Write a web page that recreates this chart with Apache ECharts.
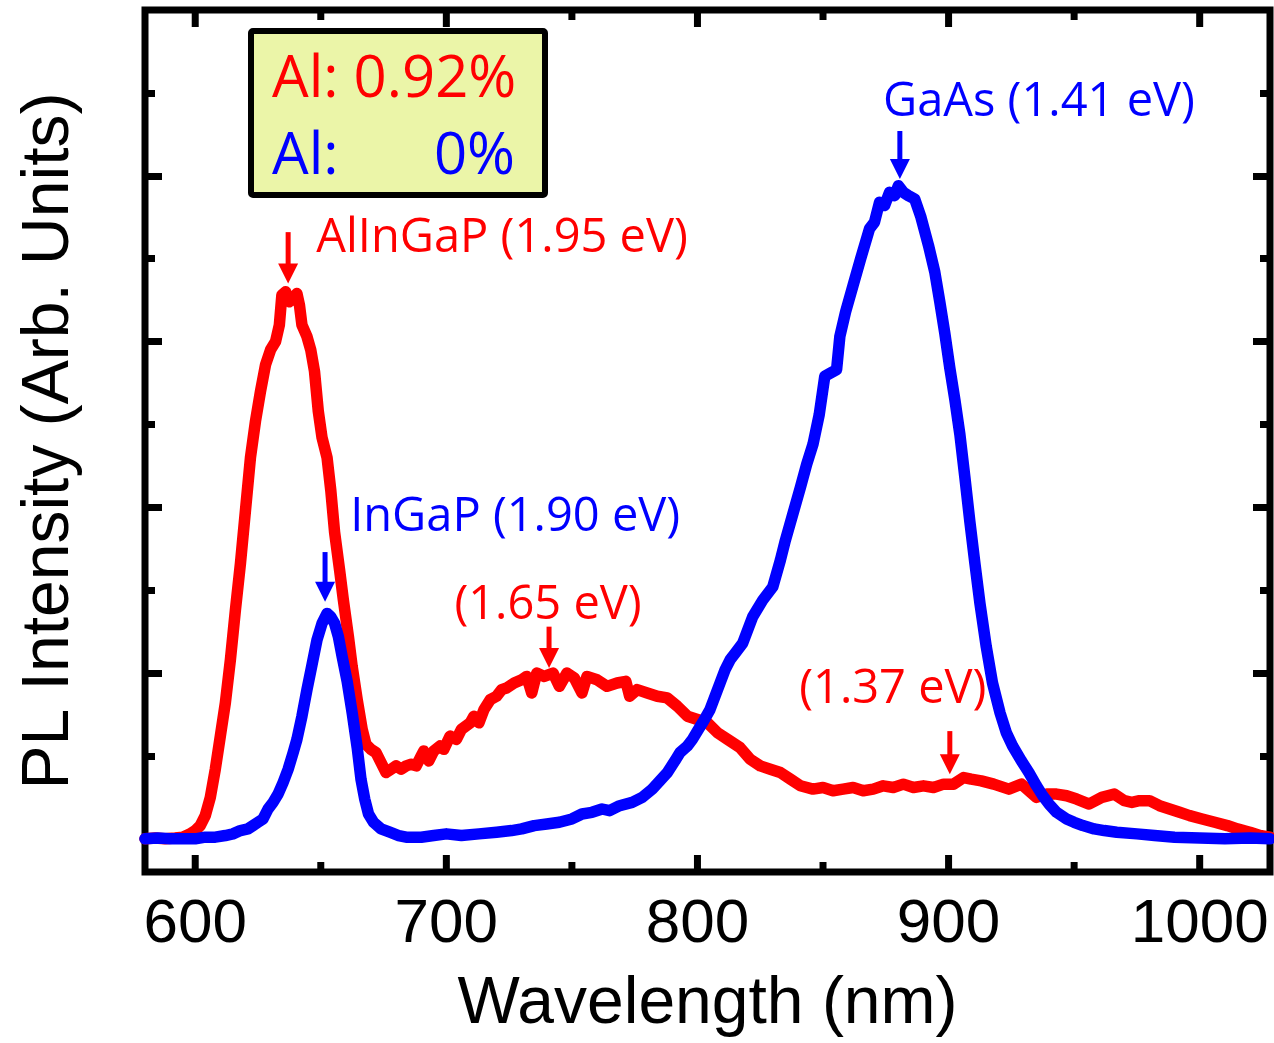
<!DOCTYPE html>
<html>
<head>
<meta charset="utf-8">
<script src="https://cdn.jsdelivr.net/npm/echarts@6/dist/echarts.min.js"></script>
<style>
  html, body { margin: 0; padding: 0; background: #ffffff; }
  #chart { width: 1274px; height: 1043px; }
</style>
</head>
<body>
<div id="chart"></div>
<script>
// Photoluminescence spectra: [wavelength (nm), intensity (arb. units, one major tick = 1)]
const spectrumAl092 = [
  [580,0.0],[584,0.005],[588,0.0],[592,0.005],[595,0.01],[598,0.03],[600,0.05],[602,0.08],[604,0.14],
  [606,0.25],[608,0.42],[610,0.62],[612,0.82],[614,1.08],[616,1.38],[618,1.66],[620,1.98],[622,2.30],
  [624,2.52],[626,2.70],[628,2.86],[630,2.95],[632,3.00],[633.5,3.10],[634.5,3.28],[636,3.30],[637.5,3.24],
  [639,3.26],[640.5,3.29],[641.5,3.22],[642.5,3.10],[644.5,3.03],[646,2.95],[647.5,2.82],[649,2.58],
  [650.5,2.42],[652.5,2.30],[654,2.10],[655.5,1.85],[657.5,1.62],[659,1.44],[661,1.22],[662.5,1.04],
  [664.5,0.84],[666.5,0.66],[668,0.57],[670,0.54],[672,0.52],[674,0.46],[676,0.40],[678,0.42],[680,0.44],
  [682,0.42],[684,0.44],[686,0.45],[688,0.44],[690,0.50],[691,0.53],[693,0.47],[695,0.53],[697.5,0.56],
  [699,0.54],[701.5,0.62],[704,0.60],[706,0.66],[709.5,0.70],[711,0.74],[713,0.70],[715,0.78],[717.5,0.84],
  [720,0.86],[722,0.90],[724,0.91],[727,0.94],[730,0.96],[732,0.98],[734,0.88],[736,1.00],[739,0.98],
  [742.5,1.00],[745,0.92],[748,1.00],[751,0.97],[754,0.88],[756,0.98],[760,0.96],[764,0.92],[768,0.94],
  [771.5,0.95],[773,0.86],[776,0.90],[780,0.88],[784,0.86],[788,0.85],[792,0.80],[796,0.74],[800,0.72],
  [804,0.70],[808,0.64],[812,0.60],[817,0.55],[821,0.48],[825,0.44],[829,0.42],[833,0.40],[837,0.36],
  [841,0.32],[846,0.30],[850,0.31],[854,0.29],[858,0.30],[862,0.31],[866,0.29],[870,0.30],[874,0.32],
  [878,0.31],[882,0.33],[886,0.31],[890,0.32],[894,0.31],[898,0.33],[902,0.33],[906,0.37],[909,0.36],
  [913,0.35],[918,0.33],[924,0.30],[929,0.33],[935,0.25],[939,0.27],[943,0.27],[947,0.26],[951,0.24],
  [956,0.21],[961,0.25],[966,0.27],[970,0.23],[973,0.22],[976,0.23],[980,0.23],[984,0.20],[988,0.18],
  [992,0.16],[996,0.14],[1001,0.12],[1006,0.10],[1011,0.08],[1015,0.06],[1020,0.04],[1024,0.02],[1028,0.01]
];

const spectrumAl0 = [
  [580,0.0],[585,0.005],[590,0.0],[595,0.0],[600,0.0],[604,0.01],[608,0.01],[612,0.02],[615,0.03],
  [618,0.05],[621,0.06],[623,0.08],[625,0.10],[627,0.12],[629,0.18],[631,0.22],[633,0.27],[635,0.34],
  [637,0.42],[639,0.52],[640.5,0.60],[642.5,0.74],[644.5,0.90],[646.5,1.05],[648.5,1.20],[650.5,1.30],
  [652.5,1.36],[654,1.34],[655.5,1.30],[657,1.22],[658.5,1.10],[660.5,0.95],[662.5,0.76],[664.5,0.55],
  [666,0.36],[667.5,0.24],[669,0.15],[671,0.10],[674,0.06],[677.5,0.04],[681,0.02],[684,0.01],[690,0.01],
  [695,0.02],[700,0.03],[706,0.02],[713,0.03],[720,0.04],[726,0.05],[730,0.06],[735,0.08],[740,0.09],
  [745,0.10],[750,0.12],[754,0.15],[758,0.16],[762,0.18],[765,0.17],[769,0.20],[774,0.22],[778,0.25],
  [782,0.30],[785,0.35],[788,0.40],[791,0.47],[793,0.52],[796,0.56],[798,0.60],[800,0.65],[802,0.70],
  [805,0.78],[807,0.86],[809,0.94],[811,1.02],[813,1.08],[815,1.12],[818,1.18],[822,1.34],[826,1.44],
  [830,1.52],[833,1.68],[835,1.80],[838,1.96],[841,2.12],[843.5,2.26],[846,2.38],[848.5,2.56],[850.7,2.79],
  [853,2.81],[855.4,2.83],[856.7,3.03],[859,3.18],[862,3.34],[865,3.50],[868.5,3.68],[870.5,3.72],
  [872.5,3.84],[874.5,3.82],[876.5,3.90],[878.5,3.88],[880,3.94],[882,3.90],[884,3.88],[886.5,3.86],
  [889,3.75],[892,3.58],[894.5,3.42],[896.5,3.24],[898.5,3.05],[900.5,2.84],[902.5,2.65],[904.5,2.44],
  [906.5,2.18],[908.5,1.91],[910.5,1.66],[912.5,1.42],[915,1.16],[917.5,0.94],[920.5,0.76],[923,0.64],
  [925.5,0.56],[929,0.47],[932,0.40],[935,0.32],[937.5,0.26],[940,0.21],[943,0.16],[947,0.12],[950,0.10],
  [953.5,0.08],[958,0.06],[962,0.05],[967,0.04],[975,0.03],[982,0.02],[990,0.01],[1000,0.005],[1010,0.0],
  [1020,0.005],[1028,0.0]
];

// Axis ticks
const xMajorTicks = [600, 700, 800, 900, 1000];
const xMinorTicks = [650, 750, 850, 950];
const yMajorTicks = [0, 1, 2, 3, 4];
const yMinorTicks = [0.5, 1.5, 2.5, 3.5, 4.5];

// Sample names (Al content) and peak annotations
const sampleAl = ['0.92%', '0%'];
const peakTexts = ['AlInGaP (1.95 eV)', 'InGaP (1.90 eV)', 'GaAs (1.41 eV)', '(1.65 eV)', '(1.37 eV)'];
// arrow positions [wavelength, top of arrow, tip of arrow] in data units
const peakArrows = [[637.0, 3.66, 3.35], [651.7, 1.73, 1.43], [880.6, 4.27, 3.98], [740.9, 1.28, 1.03], [900.5, 0.65, 0.39]];

const RED = '#ff0000';
const BLUE = '#0000ff';
const AXIS_FONT = '"Liberation Sans", Arial, sans-serif';
const NOTE_FONT = '"Open Sans", "Noto Sans", sans-serif';

// label anchors (data units) and styling for each peak annotation
const peakLabelAnchors = [[648.2, 3.62], [661.7, 1.94], [936.0, 4.44], [740.5, 1.41], [877.8, 0.90]];
const peakLabelAlign = ['left', 'left', 'center', 'center', 'center'];
const peakColor = [RED, BLUE, BLUE, RED, RED];

const X_MIN = 580, X_MAX = 1028, Y_MIN = -0.2, Y_MAX = 5;

function xAxisDef(position, main) {
  return {
    type: 'value', min: X_MIN, max: X_MAX, position: position,
    axisLine: { show: false, onZero: false },
    splitLine: { show: false },
    axisTick: { show: false },
    axisLabel: main ? { show: true, customValues: xMajorTicks, fontSize: 62, fontFamily: AXIS_FONT,
                        color: '#000', margin: 22, formatter: v => String(v) } : { show: false },
    name: main ? 'Wavelength (nm)' : '',
    nameLocation: 'middle', nameGap: 100,
    nameTextStyle: { fontSize: 66, fontFamily: AXIS_FONT, color: '#000' }
  };
}
function yAxisDef(position, ticks, len, main) {
  return {
    type: 'value', min: Y_MIN, max: Y_MAX, position: position,
    axisLine: { show: false, onZero: false },
    splitLine: { show: false },
    axisTick: { show: true, inside: true, length: len, customValues: ticks,
                lineStyle: { color: '#000', width: 7 } },
    axisLabel: { show: false },
    name: main ? 'PL Intensity (Arb. Units)' : '',
    nameLocation: 'middle', nameGap: 62,
    nameTextStyle: { fontSize: 66, fontFamily: AXIS_FONT, color: '#000' }
  };
}

// Inward tick marks on the bottom and top frame at each wavelength tick value
function xTickRenderer(len) {
  return function (params, api) {
    const v = api.value(0);
    const bottom = api.coord([v, Y_MIN]);
    const top = api.coord([v, Y_MAX]);
    return {
      type: 'group',
      children: [
        { type: 'line', shape: { x1: bottom[0], y1: bottom[1], x2: bottom[0], y2: bottom[1] - len },
          style: { stroke: '#000', lineWidth: 7 } },
        { type: 'line', shape: { x1: top[0], y1: top[1], x2: top[0], y2: top[1] + len },
          style: { stroke: '#000', lineWidth: 7 } }
      ]
    };
  };
}

// Draws one peak annotation: text plus a downward arrow, positioned through the axes
function renderPeakNote(params, api) {
  const i = params.dataIndex;
  const p = api.coord([api.value(0), api.value(1)]);
  const a = peakArrows[i];
  const top = api.coord([a[0], a[1]]);
  const tip = api.coord([a[0], a[2]]);
  const headH = 20, headW = 10;
  const c = peakColor[i];
  return {
    type: 'group',
    children: [
      { type: 'text',
        style: { text: peakTexts[i], x: p[0], y: p[1], fill: c, font: '47px ' + NOTE_FONT,
                 align: peakLabelAlign[i], verticalAlign: 'middle' } },
      { type: 'line',
        shape: { x1: top[0], y1: top[1], x2: tip[0], y2: tip[1] - headH + 2 },
        style: { stroke: c, lineWidth: 5 } },
      { type: 'polygon',
        shape: { points: [[tip[0] - headW, tip[1] - headH], [tip[0] + headW, tip[1] - headH], [tip[0], tip[1]]] },
        style: { fill: c } }
    ]
  };
}

const chart = echarts.init(document.getElementById('chart'), null, { renderer: 'canvas' });

chart.setOption({
  animation: false,
  backgroundColor: '#ffffff',
  grid: { left: 145, right: 4, top: 10, bottom: 167, show: true,
          borderColor: '#000', borderWidth: 7, backgroundColor: 'transparent' },
  xAxis: [
    xAxisDef('bottom', true),
    xAxisDef('top', false)
  ],
  yAxis: [
    yAxisDef('left', yMajorTicks, 17, true),
    yAxisDef('left', yMinorTicks, 10, false),
    yAxisDef('right', yMajorTicks, 17, false),
    yAxisDef('right', yMinorTicks, 10, false)
  ],
  series: [
    { name: 'xMajorTicks', type: 'custom', data: xMajorTicks.map(v => [v, 0]),
      renderItem: xTickRenderer(17), silent: true, clip: false, z: 1 },
    { name: 'xMinorTicks', type: 'custom', data: xMinorTicks.map(v => [v, 0]),
      renderItem: xTickRenderer(10), silent: true, clip: false, z: 1 },
    { name: 'Al: ' + sampleAl[0], type: 'line', data: spectrumAl092, showSymbol: false,
      lineStyle: { color: RED, width: 11.5, join: 'round', cap: 'round' }, z: 3 },
    { name: 'Al: ' + sampleAl[1], type: 'line', data: spectrumAl0, showSymbol: false,
      lineStyle: { color: BLUE, width: 11.5, join: 'round', cap: 'round' }, z: 4 },
    { name: 'peaks', type: 'custom', data: peakLabelAnchors, renderItem: renderPeakNote,
      silent: true, clip: false, z: 10 }
  ],
  // Sample key box
  graphic: [
    { type: 'rect', z: 10,
      shape: { x: 251, y: 31, width: 294, height: 164, r: 2 },
      style: { fill: '#ebf5a8', stroke: '#000', lineWidth: 6 } },
    { type: 'text', z: 11,
      style: { text: 'Al: ' + sampleAl[0], x: 272, y: 80, fill: RED, font: '58px ' + NOTE_FONT,
               align: 'left', verticalAlign: 'middle' } },
    { type: 'text', z: 11,
      style: { text: 'Al:', x: 272, y: 157, fill: BLUE, font: '58px ' + NOTE_FONT,
               align: 'left', verticalAlign: 'middle' } },
    { type: 'text', z: 11,
      style: { text: sampleAl[1], x: 515, y: 157, fill: BLUE, font: '58px ' + NOTE_FONT,
               align: 'right', verticalAlign: 'middle' } }
  ]
});
</script>
</body>
</html>
